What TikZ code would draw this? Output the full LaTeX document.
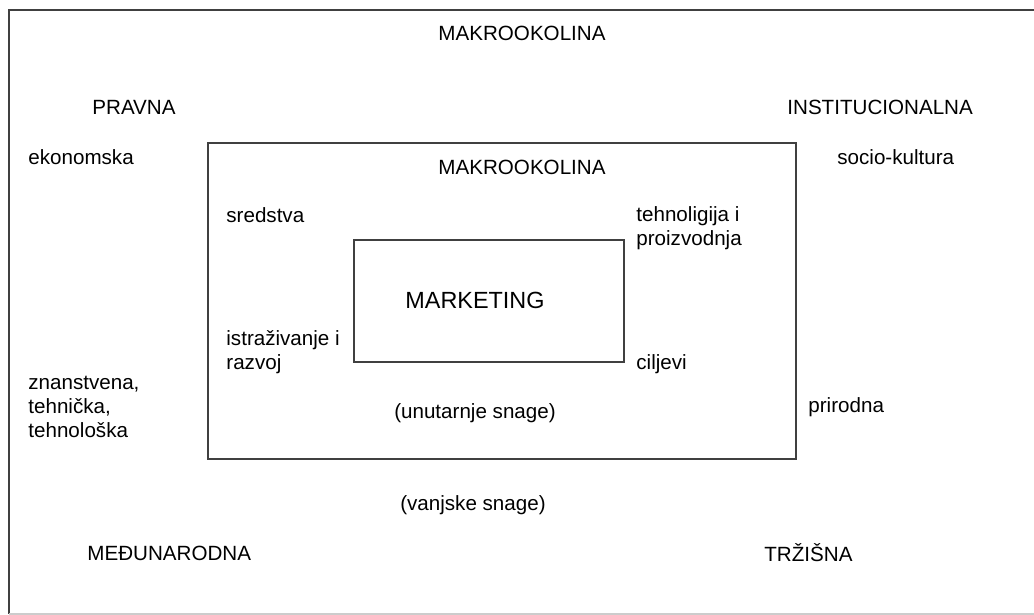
\documentclass[tikz,border=0pt]{standalone}
\usepackage{fontspec}
\setmainfont{Liberation Sans}
\usetikzlibrary{calc}

\begin{document}
\begin{tikzpicture}[x=0.5pt, y=-0.5pt]
\tikzset{lbl/.style={inner sep=0,anchor=west,align=left,font=\fontsize{10.3}{12}\selectfont},
         ttl/.style={inner sep=0,font=\fontsize{10.3}{12}\selectfont},
         frame/.style={draw=black!75,line width=0.8pt}}
\useasboundingbox (0,0) rectangle (1034,615);

% frames - outer one runs past the right edge
\begin{scope}
\clip (0,0) rectangle (1034,615);
\draw[frame] (1040,10) -- (9,10) -- (9,614);
\draw[black!20,line width=0.6pt] (9,614) -- (1040,614);
\end{scope}
\node[frame,inner sep=0,minimum width=294pt,minimum height=158pt,anchor=north west] (okolina) at (207,142) {};
\node[frame,inner sep=0,minimum width=135pt,minimum height=61pt,anchor=north west] (marketing) at (353,239) {};

% vanjske snage
\node[ttl] (makro) at (522,33) {MAKROOKOLINA};
\node[lbl] (pravna) at (92,107) {PRAVNA};
\node[lbl] (instit) at (787,107) {INSTITUCIONALNA};
\node[lbl] (ekon) at (28,157) {ekonomska};
\node[lbl] (socio) at (837,157) {socio-kultura};
\node[lbl] (znan) at (28,407) {znanstvena,\\tehnička,\\tehnološka};
\node[lbl] (prir) at (808,407) {prirodna};
\node[ttl] (vanjske) at (473,505) {(vanjske snage)};
\node[lbl] (medju) at (87,553) {MEĐUNARODNA};
\node[lbl] (trz) at (764,553) {TRŽIŠNA};

% unutarnje snage
\node[ttl] (makro2) at (522,167) {MAKROOKOLINA};
\node[lbl] (sred) at (226,215) {sredstva};
\node[lbl] (tehn) at (636,228) {tehnoligija i\\proizvodnja};
\node[ttl,font=\fontsize{11.7}{14}\selectfont] (mkt) at (475,300) {MARKETING};
\node[lbl] (istr) at (226,352) {istraživanje i\\razvoj};
\node[lbl] (cilj) at (636,364) {ciljevi};
\node[ttl] (unutarnje) at (475,413) {(unutarnje snage)};

\end{tikzpicture}
\end{document}
